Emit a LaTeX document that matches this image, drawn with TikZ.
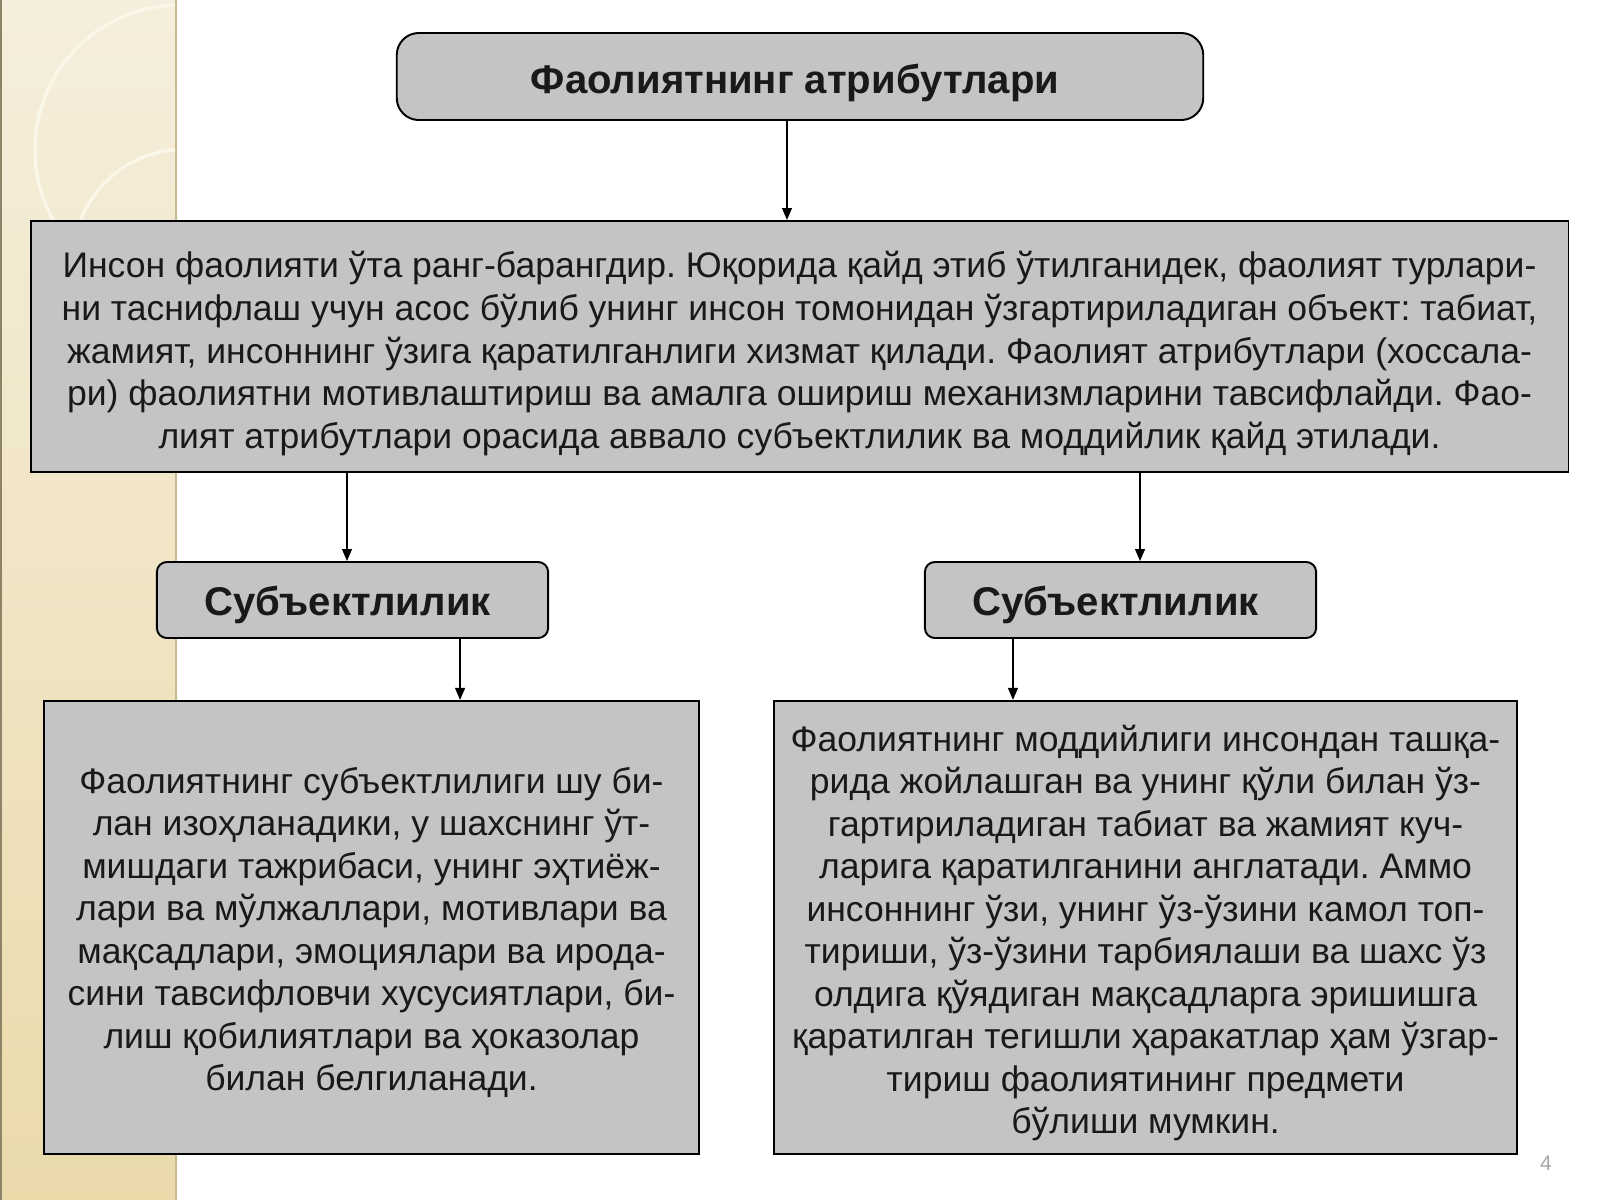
\documentclass[tikz,border=0pt]{standalone}
\usepackage{fontspec}
\setmainfont{Liberation Sans}
\frenchspacing
\usetikzlibrary{arrows.meta}
\definecolor{boxgray}{RGB}{196,196,198}
\definecolor{striptop}{RGB}{245,238,220}
\definecolor{stripbot}{RGB}{234,218,170}
\definecolor{stripline}{RGB}{250,246,232}
\definecolor{txt}{RGB}{25,25,25}
\begin{document}
\begin{tikzpicture}[x=0.01cm,y=-0.01cm,
    box/.style={draw=black,line width=0.55pt,fill=boxgray,inner sep=0pt},
    headbox/.style={box,rounded corners=0.22cm},
    subbox/.style={box,rounded corners=0.1cm},
    boxtext/.style={inner sep=0pt,align=center,text=txt,font=\fontsize{10.1}{12.1}\selectfont},
    headtext/.style={boxtext,font=\bfseries\fontsize{11.4}{13}\selectfont},
    subtext/.style={boxtext,font=\bfseries\fontsize{11.4}{13}\selectfont},
    arr/.style={->,>={Triangle[length=3.4pt,width=2.8pt]},line width=0.45pt}]
    \useasboundingbox (0,0) rectangle (1600,1200);
    \fill[white] (0,0) rectangle (1600,1200);
    % left strip
    \shade[top color=striptop,bottom color=stripbot] (0,0) rectangle (177,1200);
    \begin{scope}
    \clip (0,0) rectangle (177,1200);
    \draw[stripline,line width=1pt] (180,5) arc[start angle=270,end angle=150,radius=145];
    \draw[stripline,line width=1pt] (80,222) arc[start angle=200,end angle=290,radius=110];
    \end{scope}
    \draw[stripbot!85!black,line width=0.6pt] (176,0) -- (176,1200);
    \draw[stripbot!60!black,line width=0.5pt] (1,0) -- (1,1200);
    % boxes
    \node[headbox,minimum width=8.06cm,minimum height=0.87cm] (title) at (800,76.5) {};
    \node[box,minimum width=15.37cm,minimum height=2.51cm] (main) at (799.5,346.5) {};
    \node[subbox,minimum width=3.91cm,minimum height=0.76cm] (sub1) at (352.5,600) {};
    \node[subbox,minimum width=3.91cm,minimum height=0.76cm] (sub2) at (1120.5,600) {};
    \node[box,minimum width=6.55cm,minimum height=4.53cm] (left) at (371.5,927.5) {};
    \node[box,minimum width=7.43cm,minimum height=4.53cm] (right) at (1145.5,927.5) {};
    % texts
    \node[headtext] (titletext) at ([xshift=-0.05cm,yshift=-0.06cm]title.center) {Фаолиятнинг атрибутлари};
    \node[boxtext] (maintext) at ([yshift=-0.07cm]main.center)
      {Инсон фаолияти ўта ранг-барангдир. Юқорида қайд этиб ўтилганидек, фаолият турлари-\\
       ни таснифлаш учун асос бўлиб унинг инсон томонидан ўзгартириладиган объект: табиат,\\
       жамият, инсоннинг ўзига қаратилганлиги хизмат қилади. Фаолият атрибутлари (хоссала-\\
       ри) фаолиятни мотивлаштириш ва амалга ошириш механизмларини тавсифлайди. Фао-\\
       лият атрибутлари орасида аввало субъектлилик ва моддийлик қайд этилади.};
    \node[subtext] (sub1text) at ([xshift=-0.05cm,yshift=-0.05cm]sub1.center) {Субъектлилик};
    \node[subtext] (sub2text) at ([xshift=-0.05cm,yshift=-0.05cm]sub2.center) {Субъектлилик};
    \node[boxtext] (lefttext) at ([yshift=-0.05cm]left.center)
      {Фаолиятнинг субъектлилиги шу би-\\
       лан изоҳланадики, у шахснинг ўт-\\
       мишдаги тажрибаси, унинг эҳтиёж-\\
       лари ва мўлжаллари, мотивлари ва\\
       мақсадлари, эмоциялари ва ирода-\\
       сини тавсифловчи хусусиятлари, би-\\
       лиш қобилиятлари ва ҳоказолар\\
       билан белгиланади.};
    \node[boxtext] (righttext) at ([yshift=-0.055cm]right.center)
      {Фаолиятнинг моддийлиги инсондан ташқа-\\
       рида жойлашган ва унинг қўли билан ўз-\\
       гартириладиган табиат ва жамият куч-\\
       ларига қаратилганини англатади. Аммо\\
       инсоннинг ўзи, унинг ўз-ўзини камол топ-\\
       тириши, ўз-ўзини тарбиялаши ва шахс ўз\\
       олдига қўядиган мақсадларга эришишга\\
       қаратилган тегишли ҳаракатлар ҳам ўзгар-\\
       тириш фаолиятининг предмети\\
       бўлиши мумкин.};
    % connectors
    \draw[arr] ([xshift=-0.13cm]title.south) -- ([xshift=-0.13cm]title.south |- main.north);
    \draw[arr] ([xshift=-0.055cm]sub1.north |- main.south) -- ([xshift=-0.055cm]sub1.north);
    \draw[arr] ([xshift=0.195cm]sub2.north |- main.south) -- ([xshift=0.195cm]sub2.north);
    \draw[arr] ([xshift=1.075cm]sub1.south) -- ([xshift=1.075cm]sub1.south |- left.north);
    \draw[arr] ([xshift=-1.075cm]sub2.south) -- ([xshift=-1.075cm]sub2.south |- right.north);
    \node[text=gray!70,font=\fontsize{6}{7}\selectfont] (page) at (1546,1163) {4};
\end{tikzpicture}
\end{document}
